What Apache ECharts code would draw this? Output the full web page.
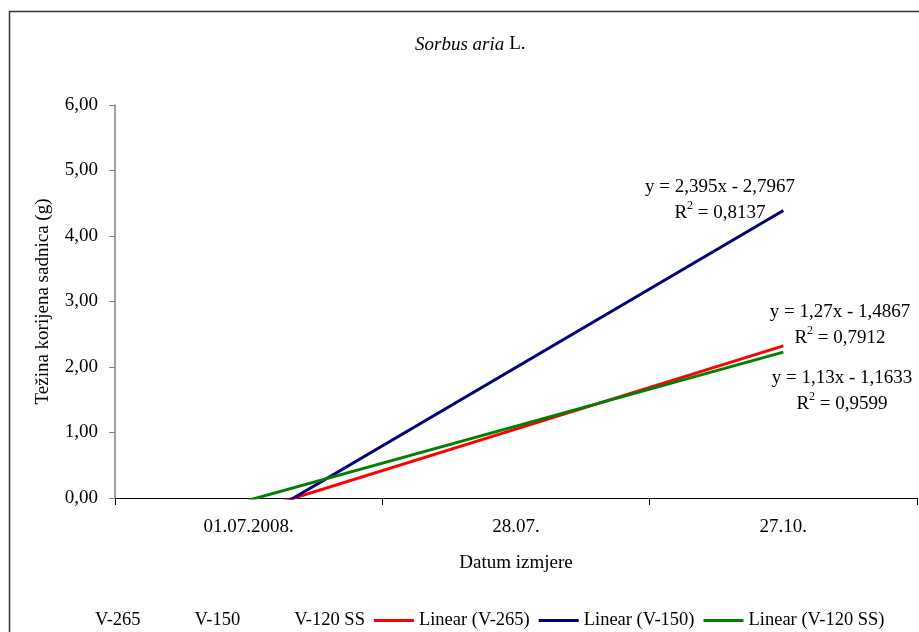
<!DOCTYPE html>
<html>
<head>
<meta charset="utf-8">
<script src="https://cdn.jsdelivr.net/npm/echarts@6/dist/echarts.min.js"></script>
<style>html,body{margin:0;padding:0;background:#fff}#c{width:919px;height:632px}</style>
</head>
<body>
<div id="c"></div>
<script>
// Data
const categories = ['01.07.2008.', '28.07.', '27.10.'];
const dataSeriesNames = ['V-265', 'V-150', 'V-120 SS'];
const trendNames = ['Linear (V-265)', 'Linear (V-150)', 'Linear (V-120 SS)'];
const trendX = [1, 3];
const trendStart = [-0.2167, -0.4017, -0.0333];   // value at first date
const trendEnd = [2.3233, 4.3883, 2.2267];        // value at last date
const equations = ['y = 1,27x - 1,4867', 'y = 2,395x - 2,7967', 'y = 1,13x - 1,1633'];
const r2Labels = ['0,7912', '0,8137', '0,9599'];
const yTicks = ['0,00', '1,00', '2,00', '3,00', '4,00', '5,00', '6,00'];

const colors = ['#ff0000', '#000080', '#008000'];
const FONT = 'Liberation Serif';
const FS = 19;

const chart = echarts.init(document.getElementById('c'), null, {renderer: 'canvas'});

const series = [];
dataSeriesNames.forEach(n => series.push({
  name: n, type: 'line', data: [], xAxisIndex: 0, symbol: 'none',
  lineStyle: {opacity: 0}, itemStyle: {color: 'rgba(0,0,0,0)'}
}));
trendNames.forEach((n, i) => series.push({
  name: n, type: 'line', xAxisIndex: 1, symbol: 'none', showSymbol: false, clip: true,
  color: colors[i],
  lineStyle: {width: 3, color: colors[i]},
  itemStyle: {color: colors[i]},
  data: [[trendX[0], trendStart[i]], [trendX[1], trendEnd[i]]],
  silent: true, animation: false
}));

const eqPos = [[840, 325], [720, 200], [842, 391]];
const graphics = [{
  type: 'rect', shape: {x: 9.5, y: 11.5, width: 1000, height: 1000},
  style: {fill: 'none', stroke: '#333', lineWidth: 1.5}, silent: true
}];
equations.forEach((eq, i) => graphics.push({
  type: 'text', x: eqPos[i][0], y: eqPos[i][1],
  style: {
    text: '{n|' + eq + '}\n{n|R}{s|2}{n| = ' + r2Labels[i] + '}',
    align: 'center', verticalAlign: 'middle',
    rich: {
      n: {fontFamily: FONT, fontSize: FS, lineHeight: 26, color: '#000'},
      s: {fontFamily: FONT, fontSize: 12, lineHeight: 26, verticalAlign: 'top', color: '#000', padding: [0, 0, 8, 0]}
    }
  }
}));

chart.setOption({
  animation: false,
  title: {
    text: '{i|Sorbus aria} {n|L.}',
    left: 410, top: 30,
    textStyle: {
      fontWeight: 'normal',
      rich: {
        i: {fontFamily: FONT, fontSize: FS, fontStyle: 'italic', fontWeight: 'normal', color: '#000'},
        n: {fontFamily: FONT, fontSize: FS, fontWeight: 'normal', color: '#000'}
      }
    }
  },
  grid: {left: 115, top: 105, right: 2, bottom: 134, containLabel: false},
  legend: {
    left: 45, top: 606, itemWidth: 40, itemHeight: 3, itemGap: 9,
    textStyle: {fontFamily: FONT, fontSize: 18.5, color: '#000'},
    data: dataSeriesNames.map(n => ({name: n, icon: 'rect', itemStyle: {color: 'rgba(0,0,0,0)', borderWidth: 0}}))
      .concat(trendNames.map((n, i) => ({name: n, icon: 'rect', itemStyle: {color: colors[i], borderWidth: 0}})))
  },
  xAxis: [{
    type: 'category', data: categories, boundaryGap: true, position: 'bottom',
    name: 'Datum izmjere', nameLocation: 'middle', nameGap: 56,
    nameTextStyle: {fontFamily: FONT, fontSize: FS, color: '#000'},
    axisLine: {lineStyle: {color: '#000', width: 1}},
    axisTick: {show: true, length: 7, lineStyle: {color: '#000'}},
    axisLabel: {fontFamily: FONT, fontSize: FS, color: '#000', margin: 20},
    splitLine: {show: false}
  }, {
    type: 'value', min: 0.5, max: 3.5, show: false, position: 'bottom'
  }],
  yAxis: {
    type: 'value', min: 0, max: 6, interval: 1,
    name: 'Težina korijena sadnica (g)', nameLocation: 'middle', nameGap: 62, nameRotate: 90,
    nameTextStyle: {fontFamily: FONT, fontSize: FS, color: '#000'},
    axisLine: {show: true, lineStyle: {color: '#808080', width: 1.5}},
    axisTick: {show: true, length: 6, lineStyle: {color: '#808080'}},
    axisLabel: {fontFamily: FONT, fontSize: FS, color: '#000', margin: 17,
      formatter: (v) => yTicks[Math.round(v)]},
    splitLine: {show: false}
  },
  series: series,
  graphic: graphics
});
</script>
</body>
</html>
